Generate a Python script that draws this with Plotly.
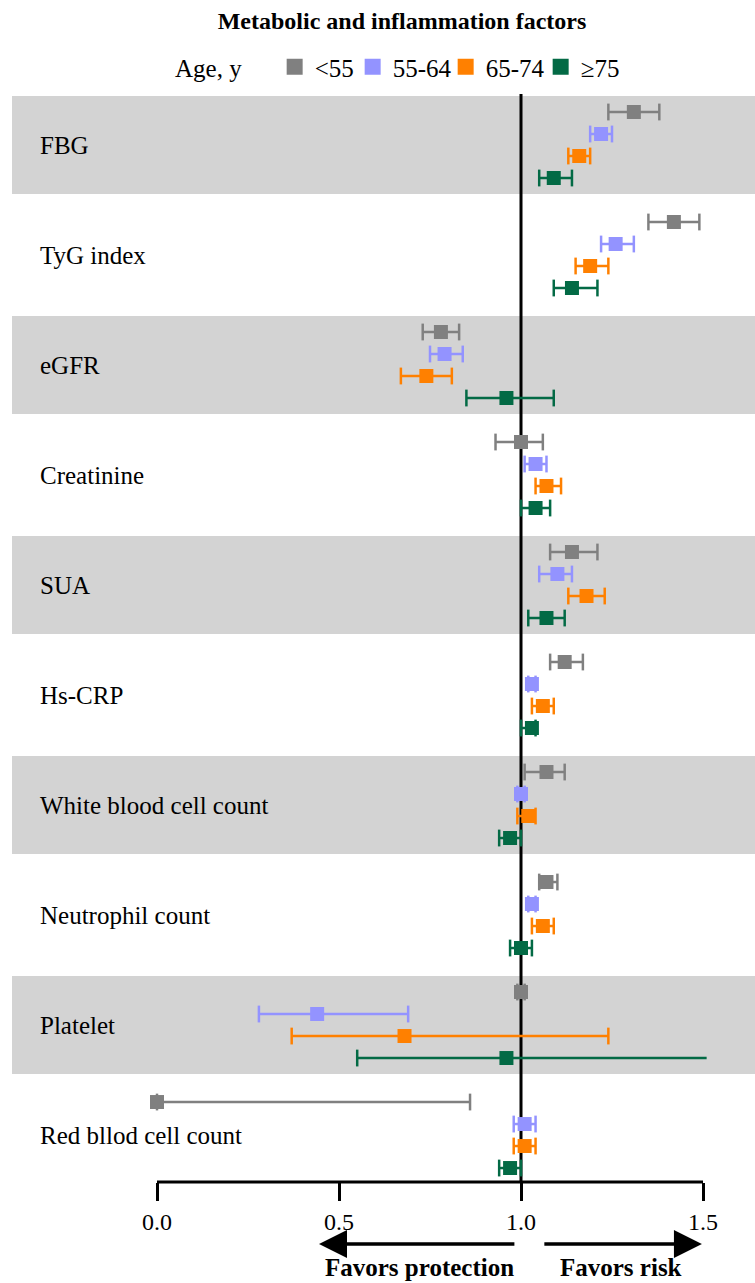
import plotly.graph_objects as go

# ---- data: odds ratios (95% CI) by age group ----
factors = [
    "FBG", "TyG index", "eGFR", "Creatinine", "SUA", "Hs-CRP",
    "White blood cell count", "Neutrophil count", "Platelet", "Red bllod cell count",
]
age_groups = ["<55", "55-64", "65-74", "≥75"]

or_lt55 = [1.31, 1.42, 0.78, 1.00, 1.14, 1.12, 1.07, 1.07, 1.00, 0.00]
lo_lt55 = [1.24, 1.35, 0.73, 0.93, 1.08, 1.08, 1.01, 1.05, 0.99, 0.00]
hi_lt55 = [1.38, 1.49, 0.83, 1.06, 1.21, 1.17, 1.12, 1.10, 1.01, 0.86]

or_55_64 = [1.22, 1.26, 0.79, 1.04, 1.10, 1.03, 1.00, 1.03, 0.44, 1.01]
lo_55_64 = [1.19, 1.22, 0.75, 1.01, 1.05, 1.02, 0.99, 1.02, 0.28, 0.98]
hi_55_64 = [1.25, 1.31, 0.84, 1.07, 1.14, 1.04, 1.01, 1.04, 0.69, 1.04]

or_65_74 = [1.16, 1.19, 0.74, 1.07, 1.18, 1.06, 1.02, 1.06, 0.68, 1.01]
lo_65_74 = [1.13, 1.15, 0.67, 1.04, 1.13, 1.03, 0.99, 1.03, 0.37, 0.98]
hi_65_74 = [1.19, 1.24, 0.81, 1.11, 1.23, 1.09, 1.04, 1.09, 1.24, 1.04]

or_ge75 = [1.09, 1.14, 0.96, 1.04, 1.07, 1.03, 0.97, 1.00, 0.96, 0.97]
lo_ge75 = [1.05, 1.09, 0.85, 1.00, 1.02, 1.00, 0.94, 0.97, 0.55, 0.94]
hi_ge75 = [1.14, 1.21, 1.09, 1.08, 1.12, 1.04, 1.00, 1.03, 1.51, 1.00]

tick_vals = [0.0, 0.5, 1.0, 1.5]
tick_text = ["0.0", "0.5", "1.0", "1.5"]

# ---- styling ----
FONT = "Liberation Serif"
colors = ["#808080", "#9393ff", "#ff8000", "#036a45"]
band_color = "#d3d3d3"
row_offsets = [-0.3, -0.1, 0.1, 0.3]
legend_widths = [33, 48, 50, 40]
axis_max = tick_vals[-1]

series = [
    (or_lt55, lo_lt55, hi_lt55),
    (or_55_64, lo_55_64, hi_55_64),
    (or_65_74, lo_65_74, hi_65_74),
    (or_ge75, lo_ge75, hi_ge75),
]

fig = go.Figure()

n = len(factors)

# alternating grey row bands
for r in range(0, n, 2):
    fig.add_shape(
        type="rect", xref="paper", x0=0, x1=1, yref="y",
        y0=r - 0.445, y1=r + 0.445,
        fillcolor=band_color, line_width=0, layer="below",
    )

# reference line at OR = 1
fig.add_shape(
    type="line", xref="x", x0=1.0, x1=1.0, yref="paper", y0=0, y1=1,
    line=dict(color="black", width=3), layer="below",
)

# bottom axis line spanning the tick range only
fig.add_shape(
    type="line", xref="x", x0=tick_vals[0], x1=tick_vals[-1], yref="paper", y0=0, y1=0,
    line=dict(color="black", width=3),
)

for g, (name, color, (est, lo, hi)) in enumerate(zip(age_groups, colors, series)):
    ys = [r + row_offsets[g] for r in range(n)]
    lx, ly, cx, cy = [], [], [], []
    for e_lo, e_hi, y in zip(lo, hi, ys):
        lx += [e_lo, e_hi, None]
        ly += [y, y, None]
        cx.append(e_lo)
        cy.append(y)
        if e_hi <= axis_max:
            cx.append(e_hi)
            cy.append(y)
    # confidence interval whiskers
    fig.add_trace(go.Scatter(
        x=lx, y=ly, mode="lines", line=dict(color=color, width=2.5),
        showlegend=False, hoverinfo="skip", cliponaxis=False,
    ))
    # whisker caps (omitted where the interval runs past the axis)
    fig.add_trace(go.Scatter(
        x=cx, y=cy, mode="markers",
        marker=dict(symbol="line-ns", size=12, line=dict(color=color, width=2.5)),
        showlegend=False, hoverinfo="skip", cliponaxis=False,
    ))
    # point estimates
    fig.add_trace(go.Scatter(
        x=est, y=ys, mode="markers", name=name, showlegend=False,
        marker=dict(symbol="square", size=14, color=color, line_width=0),
        cliponaxis=False,
    ))
    # legend entry with a larger swatch
    fig.add_trace(go.Scatter(
        x=[None], y=[None], mode="markers", name=name, legendwidth=legend_widths[g],
        marker=dict(symbol="square", size=16, color=color, line_width=0),
    ))

# factor labels
for r, lab in enumerate(factors):
    fig.add_annotation(
        x=0.035, xref="paper", xanchor="left", y=r, yref="y", yanchor="middle",
        text=lab, showarrow=False, font=dict(family=FONT, size=25, color="black"),
    )

# direction arrows below the axis
fig.add_annotation(
    x=0.445, xref="x", y=-0.057, yref="paper", ax=0.986, axref="x", ay=0, ayref="pixel",
    text="", showarrow=True, arrowhead=2, arrowwidth=3.5, arrowsize=1.6, arrowcolor="black",
)
fig.add_annotation(
    x=1.497, xref="x", y=-0.057, yref="paper", ax=1.06, axref="x", ay=0, ayref="pixel",
    text="", showarrow=True, arrowhead=2, arrowwidth=3.5, arrowsize=1.6, arrowcolor="black",
)
fig.add_annotation(
    x=0.986, xref="x", xanchor="right", y=-0.079, yref="paper", yanchor="middle",
    text="<b>Favors protection</b>", showarrow=False,
    font=dict(family=FONT, size=25, color="black"),
)
fig.add_annotation(
    x=1.102, xref="x", xanchor="left", y=-0.079, yref="paper", yanchor="middle",
    text="<b>Favors risk</b>", showarrow=False,
    font=dict(family=FONT, size=25, color="black"),
)

fig.update_layout(
    width=755, height=1283,
    margin=dict(l=12, r=0, t=94, b=101),
    paper_bgcolor="white", plot_bgcolor="white",
    font=dict(family=FONT, color="black"),
    title=dict(
        text="<b>Metabolic and inflammation factors</b>",
        font=dict(family=FONT, size=24, color="black"),
        x=402 / 755, xref="container", xanchor="center",
        y=1 - 21 / 1283, yref="container", yanchor="middle",
    ),
    legend=dict(
        orientation="h", title=dict(text="Age, y    ", font=dict(family=FONT, size=25)),
        font=dict(family=FONT, size=25, color="black"),
        xref="container", x=173 / 755, xanchor="left",
        yref="container", y=1 - 67 / 1283, yanchor="middle",
        bgcolor="rgba(0,0,0,0)", borderwidth=0, itemwidth=30,
    ),
    xaxis=dict(
        range=[-145 / 364, 598 / 364],
        tickvals=tick_vals, ticktext=tick_text,
        ticks="outside", ticklen=18, tickwidth=3, tickcolor="black",
        tickfont=dict(family=FONT, size=24, color="black"),
        showline=False, showgrid=False, zeroline=False, ticklabelstandoff=0,
    ),
    yaxis=dict(
        range=[9.427, -0.4636], visible=False, showgrid=False, zeroline=False,
    ),
)

fig.write_html("out.html")
